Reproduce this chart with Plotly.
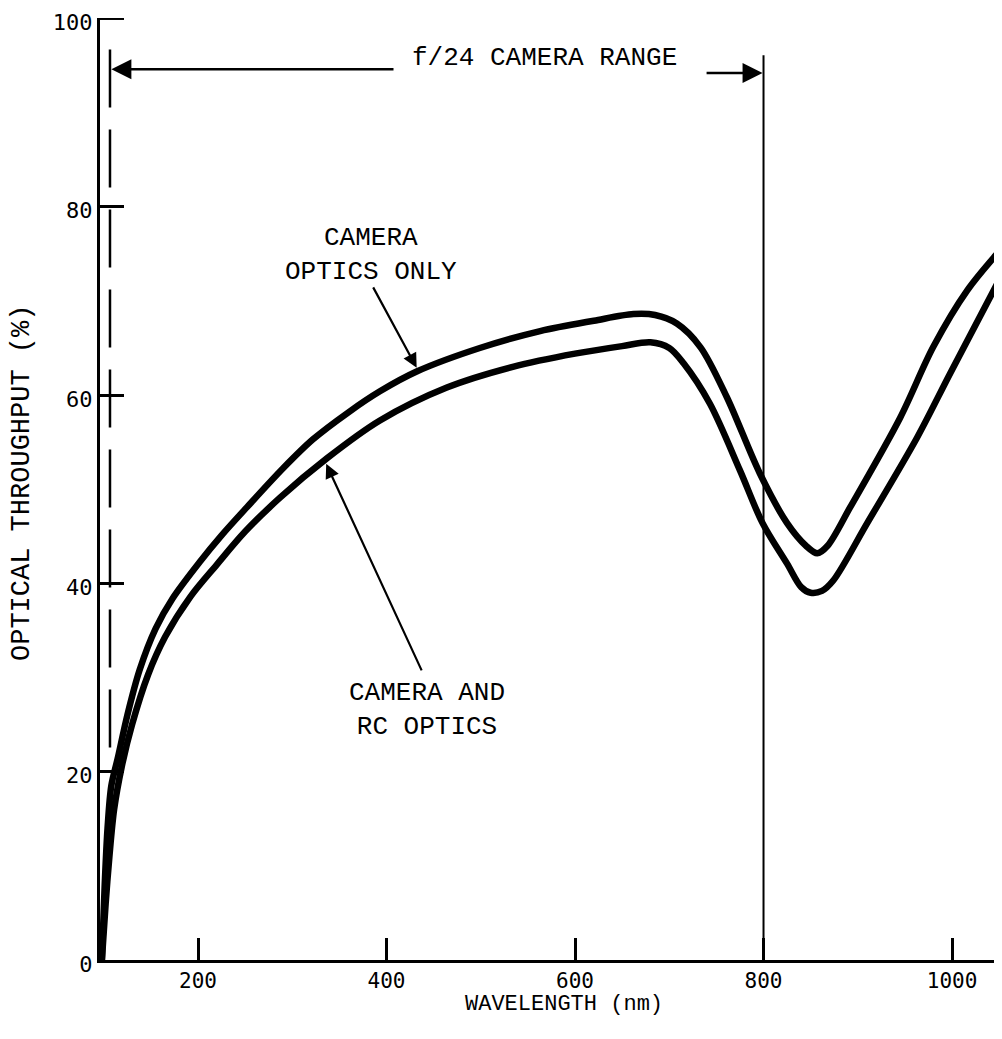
import plotly.graph_objects as go

# ---- data ----
wl_optics_only = [98, 101, 104, 108, 115, 125, 138, 155, 173, 202, 225, 252, 290, 322, 360, 393,
                  432, 499, 563, 620, 662, 685, 708, 733, 761, 796, 825, 845, 857, 868, 892, 945,
                  980, 1016, 1053]
tp_optics_only = [0, 8, 14, 18.5, 21.5, 26, 30.8, 35.2, 38.4, 42.3, 45.1, 48.1, 52.2, 55.3, 58.2,
                  60.4, 62.5, 65.0, 66.8, 67.9, 68.6, 68.5, 67.6, 65.1, 59.8, 51.7, 46.4, 44, 43.2,
                  44, 48.1, 57.6, 65.1, 71.1, 75.6]

wl_with_rc = [98, 102, 106, 111, 119, 130, 147, 165, 192, 220, 250, 287, 337, 393, 464, 534,
              600, 650, 680, 700, 715, 743, 775, 799, 825, 840, 850, 862, 874, 910, 963, 998,
              1053]
tp_with_rc = [0, 6, 11, 16, 20.5, 25, 30.3, 34.3, 38.6, 42.0, 45.5, 49.1, 53.3, 57.3, 60.8, 63,
              64.4, 65.2, 65.6, 65, 63.4, 59.1, 52, 46.4, 42.1, 39.6, 39, 39.2, 40.3, 46.4, 55.5,
              62.3, 72.8]

x_ticks = [200, 400, 600, 800, 1000]
y_ticks = [0, 20, 40, 60, 80, 100]

range_start = 106.6      # dashed line (nm)
range_end = 800          # solid line (nm)

MONO = "Liberation Mono"
TICKF = "DejaVu Sans Mono"

W, H = 986, 1023
ML, MR, MT, MB = 92, 0, 10, 71
PW = W - ML - MR
PH = H - MT - MB
PX_PER_NM = 0.9425
Y_TICKLEN = 24

fig = go.Figure()

curve_line = dict(color="black", width=6.5, shape="spline", smoothing=0.9)
fig.add_trace(go.Scatter(x=wl_optics_only, y=tp_optics_only, mode="lines", line=curve_line,
                         showlegend=False, hoverinfo="skip"))
fig.add_trace(go.Scatter(x=wl_with_rc, y=tp_with_rc, mode="lines", line=curve_line,
                         showlegend=False, hoverinfo="skip"))

# range boundary lines
fig.add_trace(go.Scatter(x=[range_start, range_start], y=[96.7, 20.4], mode="lines",
                         line=dict(color="black", width=2.5, dash="58px,22px"),
                         showlegend=False, hoverinfo="skip"))
fig.add_trace(go.Scatter(x=[range_end, range_end], y=[0, 96.1], mode="lines",
                         line=dict(color="black", width=2),
                         showlegend=False, hoverinfo="skip"))

# top tick mark (plotly drops the inside tick that sits on the plot edge)
fig.add_shape(type="line", xref="paper", yref="y", x0=0, x1=Y_TICKLEN / PW,
              y0=y_ticks[-1], y1=y_ticks[-1], line=dict(color="black", width=3))

annotations = []
# range arrows
annotations.append(dict(x=range_start + 1.5, y=94.6, ax=409, ay=94.6, xref="x", yref="y",
                        axref="x", ayref="y", text="", showarrow=True, arrowhead=2,
                        arrowsize=1.6, arrowwidth=2.5, arrowcolor="black"))
annotations.append(dict(x=range_end - 1, y=94.2, ax=738, ay=94.2, xref="x", yref="y",
                        axref="x", ayref="y", text="", showarrow=True, arrowhead=2,
                        arrowsize=1.6, arrowwidth=2.5, arrowcolor="black"))
annotations.append(dict(x=568, y=95.8, xref="x", yref="y", text="f/24 CAMERA RANGE",
                        showarrow=False, font=dict(family=MONO, size=26, color="black"),
                        bgcolor="white"))

# curve labels
annotations.append(dict(x=383, y=74.9, xref="x", yref="y", text="CAMERA<br>OPTICS ONLY",
                        showarrow=False, align="center",
                        font=dict(family=MONO, size=26, color="black")))
annotations.append(dict(x=432, y=62.9, ax=385, ay=71.6, xref="x", yref="y",
                        axref="x", ayref="y", text="", showarrow=True, arrowhead=2,
                        arrowsize=1.3, arrowwidth=2.2, arrowcolor="black"))
annotations.append(dict(x=443, y=26.55, xref="x", yref="y", text="CAMERA AND<br>RC OPTICS",
                        showarrow=False, align="center",
                        font=dict(family=MONO, size=26, color="black")))
annotations.append(dict(x=336, y=52.7, ax=438, ay=30.6, xref="x", yref="y",
                        axref="x", ayref="y", text="", showarrow=True, arrowhead=2,
                        arrowsize=1.3, arrowwidth=2.2, arrowcolor="black"))

# axis titles
annotations.append(dict(x=(14 - ML) / PW, y=(960 - 483) / PH, xref="paper", yref="paper",
                        text="OPTICAL THROUGHPUT (%)", textangle=-90, showarrow=False,
                        xanchor="center", yanchor="middle",
                        font=dict(family=MONO, size=27, color="black")))
annotations.append(dict(x=(564 - 100) / PW, y=(960 - 1004) / PH, xref="paper", yref="paper",
                        text="WAVELENGTH (nm)", showarrow=False,
                        xanchor="center", yanchor="middle",
                        font=dict(family=MONO, size=22, color="black")))

fig.update_layout(
    width=W, height=H,
    margin=dict(l=ML, r=MR, t=MT, b=MB),
    paper_bgcolor="white", plot_bgcolor="white",
    annotations=annotations,
    showlegend=False,
)
fig.update_xaxes(range=[96, 96 + PW / PX_PER_NM], tickvals=x_ticks, ticks="inside", ticklen=22,
                 tickwidth=3, tickcolor="black", showline=True, linewidth=3, linecolor="black",
                 showgrid=False, zeroline=False, ticklabeloverflow="allow",
                 tickfont=dict(family=TICKF, size=21, color="black"))
fig.update_yaxes(range=[0, 100.05], tickvals=y_ticks, ticks="inside", ticklen=Y_TICKLEN,
                 tickwidth=3, tickcolor="black", showline=True, linewidth=3, linecolor="black",
                 showgrid=False, zeroline=False, automargin=False, ticklabeloverflow="allow",
                 ticklabelshift=4,
                 tickfont=dict(family=TICKF, size=22, color="black"))

fig.write_html("out.html")
